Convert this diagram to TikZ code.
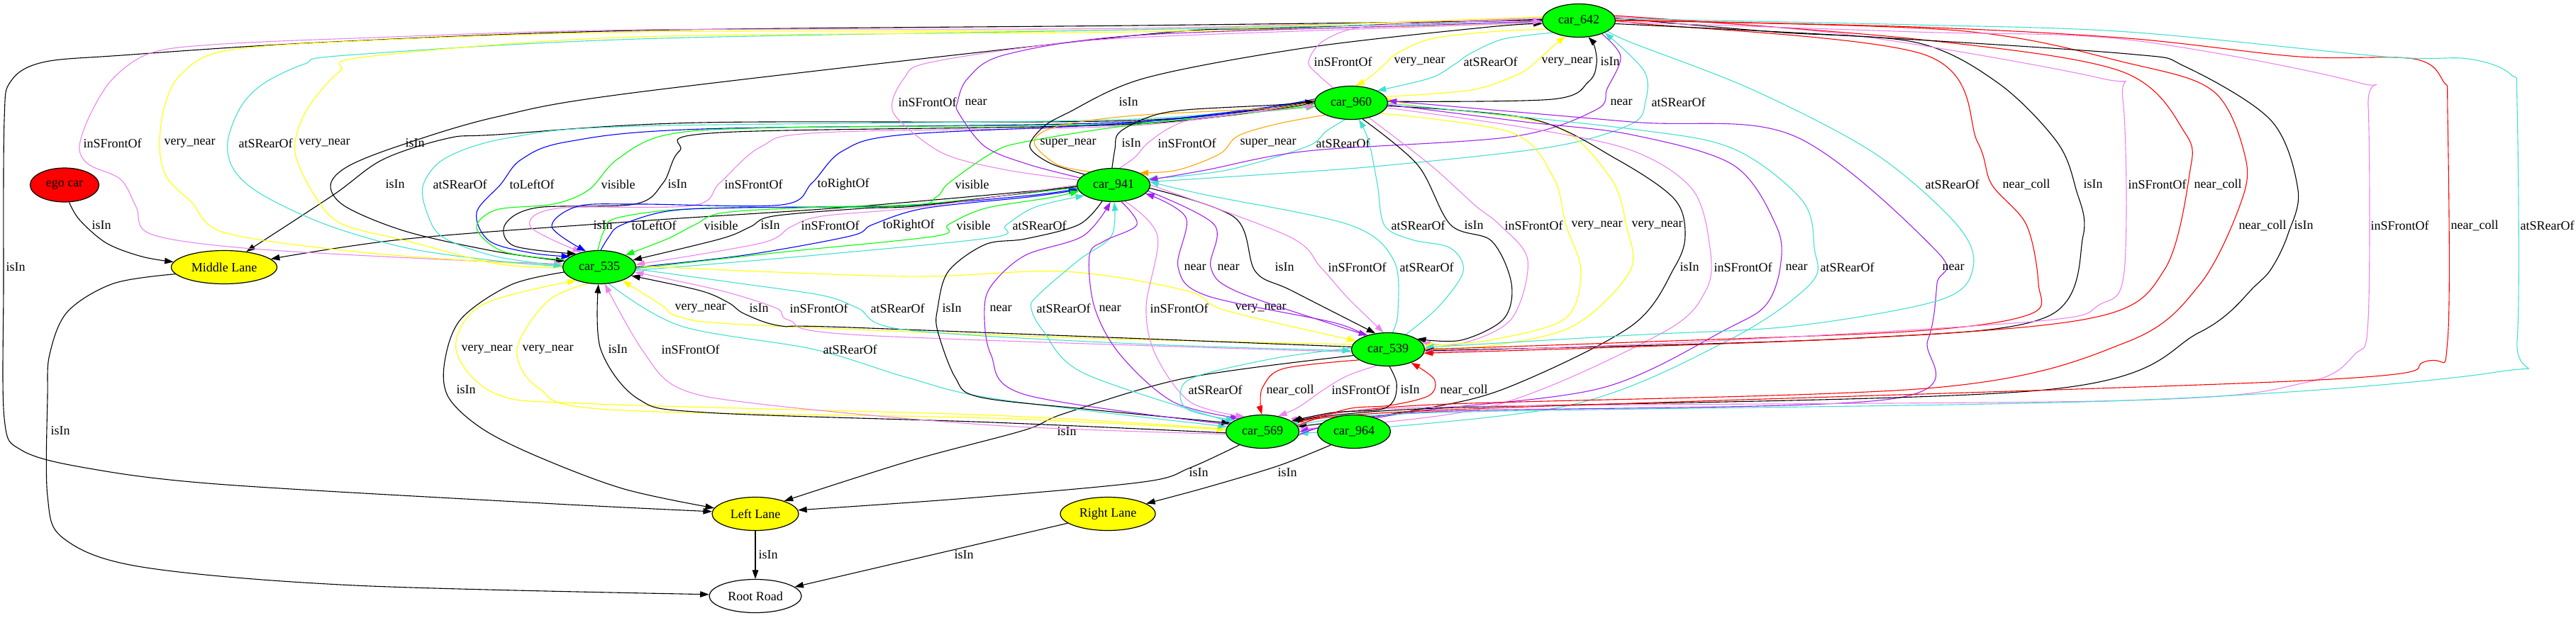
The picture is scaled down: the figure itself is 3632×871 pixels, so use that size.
\documentclass[tikz,border=0pt]{standalone}
\usepackage{fontspec}
\setmainfont{Liberation Serif}
\usetikzlibrary{shapes.geometric, arrows.meta}
\definecolor{GVgreen}{HTML}{00FF00}
\definecolor{GVyellow}{HTML}{FFFF00}
\definecolor{GVred}{HTML}{FF0000}
\definecolor{GVviolet}{HTML}{EE82EE}
\definecolor{GVturq}{HTML}{40E0D0}
\definecolor{GVpurple}{HTML}{A020F0}
\definecolor{GVorange}{HTML}{FFA500}
\definecolor{GVblue}{HTML}{0000FF}
\pgfdeclarelayer{edges}
\pgfsetlayers{edges,main}

\begin{document}
\begin{tikzpicture}[x=1pt, y=-1pt,
   every node/.style={font=\fontsize{18}{21}\selectfont},
   gvnode/.style={ellipse, draw, line width=1.2pt, minimum height=47pt, inner sep=0pt},
   car/.style={gvnode, fill=GVgreen, minimum width=103pt},
   lane/.style={gvnode, fill=GVyellow},
   rel/.style={line width=1.1pt, smooth, tension=0.55, -{Triangle[length=12.5pt, width=8.5pt]}},
   lbl/.style={anchor=west, inner sep=0pt, text=black},
   isInE/.style={rel, black},
   frontE/.style={rel, GVviolet},
   rearE/.style={rel, GVturq},
   vnearE/.style={rel, GVyellow},
   nearE/.style={rel, GVpurple},
   collE/.style={rel, GVred},
   snearE/.style={rel, GVorange},
   sideE/.style={rel, GVblue},
   visE/.style={rel, GVgreen}]
\useasboundingbox (0,0) rectangle (3632,871);

\node[car] (n642) at (2226,29) {car\_642};
\node[car] (n960) at (1905,145) {car\_960};
\node[car] (n941) at (1570,261) {car\_941};
\node[car] (n535) at (845,377) {car\_535};
\node[car] (n539) at (1957,493) {car\_539};
\node[car] (n569) at (1780,609) {car\_569};
\node[car] (n964) at (1909,609) {car\_964};
\node[gvnode, fill=GVred, minimum width=97pt, minimum height=48pt] (ego) at (91,261) {ego car};
\node[lane, minimum width=149pt] (midL) at (316,377) {Middle Lane};
\node[lane, minimum width=122pt] (leftL) at (1065,725) {Left Lane};
\node[lane, minimum width=134pt] (rightL) at (1562,725) {Right Lane};
\node[gvnode, fill=white, minimum width=130pt] (root) at (1065,841) {Root Road};

\begin{pgfonlayer}{edges}
% lanes and road
\draw[isInE] plot coordinates {(ego.-75) (112,310) (150,343) (200,362) (midL.174)} node[lbl] at (129,318) {isIn};
\draw[isInE] plot coordinates {(midL.-172) (160,400) (95,440) (70,500) (67,560) (67,700) (90,760) (200,800) (500,826) (root.178)} node[lbl] at (71,608) {isIn};
\draw[isInE] plot coordinates {(n642.180) (1600,36) (900,43) (450,60) (172,78) (60,88) (15,115) (6,170) (5,400) (6,590) (30,635) (120,660) (306,683) (765,710) (leftL.177)} node[lbl] at (8,377) {isIn};
\draw[isInE] (leftL) -- (root) node[lbl] at (1069,783) {isIn};
\draw[isInE] (rightL) -- (root) node[lbl] at (1345,783) {isIn};
\draw[isInE] plot coordinates {(n964.-150) (1803,657) (1700,688) (rightL.15)} node[lbl] at (1801,667) {isIn};
\draw[isInE] plot coordinates {(n569.-150) (1678,660) (1612,680) (1363,703) (leftL.5)} node[lbl] at (1676,667) {isIn};
\draw[isInE] plot coordinates {(n539.-170) (1674,533) (1502,583) (1444,607) (1284,650) (leftL.24)} node[lbl] at (1490,609) {isIn};
\draw[isInE] plot coordinates {(n535.-172) (720,402) (650,450) (627,510) (632,560) (680,605) (760,645) (880,690) (leftL.172)} node[lbl] at (643,550) {isIn};
\draw[isInE] plot coordinates {(n941.183) (1200,292) (900,312) (574,337) (midL.10)} node[lbl] at (836,318) {isIn};
\draw[isInE] plot coordinates {(n960.178) (1600,170) (987,173) (700,190) (632,195) (540,225) (470,275) (midL.35)} node[lbl] at (543,260) {isIn};

% car_642 -- car_535
\draw[isInE] plot coordinates {(n642.178) (1800,40) (1600,50) (900,130) (700,165) (565,205) (490,235) (466,262) (488,292) (574,327) (700,355) (n535.170)} node[lbl] at (571,202) {isIn};
\draw[frontE] plot coordinates {(n642.176) (1600,40) (900,42) (500,54) (300,63) (212,75) (160,110) (128,160) (112,207) (125,232) (170,253) (192,292) (212,330) (344,350) (600,365) (n535.175)} node[lbl] at (117,202) {inSFrontOf};
\draw[vnearE] plot coordinates {(n642.174) (1600,42) (900,45) (500,58) (316,72) (255,105) (232,150) (225,207) (235,250) (270,285) (316,328) (500,355) (700,370) (n535.177)} node[lbl] at (231,202) {very\_near};
\draw[rearE] plot coordinates {(n535.179) (700,368) (574,350) (460,317) (370,275) (330,240) (321,200) (340,150) (373,117) (430,90) (488,78) (900,55) (1600,42) (n642.182)} node[lbl] at (336,202) {atSRearOf};
\draw[vnearE] plot coordinates {(n535.181) (700,372) (574,340) (480,315) (440,270) (416,215) (425,170) (448,133) (480,100) (517,80) (900,52) (1600,45) (n642.184)} node[lbl] at (421,202) {very\_near};

% car_960 -- car_535
\draw[rearE] plot coordinates {(n960.176) (1600,168) (900,178) (720,194) (630,222) (597,260) (602,300) (625,335) (700,362) (n535.178)} node[lbl] at (610,260) {atSRearOf};
\draw[sideE] plot coordinates {(n960.174) (1600,172) (990,182) (800,200) (735,225) (706,260) (672,300) (690,340) (750,357) (n535.160)} node[lbl] at (718,260) {toLeftOf};
\draw[visE] plot coordinates {(n535.168) (710,355) (672,322) (700,296) (780,288) (830,268) (870,225) (941,190) (1100,180) (1600,174) (n960.182)} node[lbl] at (847,260) {visible};
\draw[isInE] plot coordinates {(n960.180) (1600,175) (1016,187) (958,213) (935,258) (895,288) (757,293) (712,317) (725,347) (n535.150)} node[lbl] at (941,260) {isIn};
\draw[frontE] plot coordinates {(n960.179) (1600,177) (1160,187) (1073,207) (1015,258) (976,290) (786,294) (748,320) (n535.140)} node[lbl] at (1021,260) {inSFrontOf};
\draw[sideE] plot coordinates {(n960.177) (1600,173) (1274,190) (1188,213) (1145,258) (1102,289) (901,288) (815,291) (778,320) (n535.130)} node[lbl] at (1152,260) {toRightOf};
\draw[visE] plot coordinates {(n535.95) (852,325) (872,307) (987,294) (1274,291) (1320,278) (1338,258) (1400,215) (1446,200) (1600,176) (n960.186)} node[lbl] at (1346,260) {visible};

% car_941 -- car_535
\draw[sideE] plot coordinates {(n535.85) (858,335) (875,318) (941,298) (1044,293) (1274,290) (1450,276) (n941.186)} node[lbl] at (890,318) {toLeftOf};
\draw[visE] plot coordinates {(n941.184) (1300,288) (1159,292) (1021,300) (980,317) (941,337) (n535.25)} node[lbl] at (992,318) {visible};
\draw[isInE] plot coordinates {(n941.182) (1300,290) (1217,294) (1090,305) (1058,320) (1016,337) (n535.12)} node[lbl] at (1072,318) {isIn};
\draw[frontE] plot coordinates {(n941.180) (1300,292) (1159,305) (1115,320) (1073,343) (n535.4)} node[lbl] at (1129,318) {inSFrontOf};
\draw[sideE] plot coordinates {(n535.0) (1050,360) (1199,333) (1230,317) (1303,294) (1450,278) (n941.188)} node[lbl] at (1244,318) {toRightOf};
\draw[visE] plot coordinates {(n535.-2) (1100,356) (1320,333) (1337,317) (1389,294) (1480,279) (n941.190)} node[lbl] at (1348,318) {visible};
\draw[rearE] plot coordinates {(n535.-5) (1150,360) (1400,335) (1418,318) (1460,292) (n941.-160)} node[lbl] at (1427,318) {atSRearOf};

% car_535 -- car_539
\draw[vnearE] plot coordinates {(n539.172) (1500,476) (1050,458) (958,447) (932,430) (n535.-30)} node[lbl] at (951,435) {very\_near};
\draw[isInE] plot coordinates {(n539.176) (1198,462) (1102,460) (1050,443) (1027,427) (987,410) (n535.-15)} node[lbl] at (1056,435) {isIn};
\draw[frontE] plot coordinates {(n539.-176) (1217,473) (1113,452) (1095,435) (1016,410) (n535.-8)} node[lbl] at (1113,435) {inSFrontOf};
\draw[rearE] plot coordinates {(n535.-3) (1044,400) (1160,417) (1210,435) (1274,465) (1600,485) (n539.-178)} node[lbl] at (1227,435) {atSRearOf};
\draw[vnearE] plot coordinates {(n535.2) (1274,390) (1500,383) (1672,410) (1728,438) (n539.165)} node[lbl] at (1741,435) {very\_near};

% car_535 -- car_569
\draw[vnearE] plot coordinates {(n569.176) (1400,586) (842,570) (700,556) (643,493) (680,430) (n535.-150)} node[lbl] at (650,493) {very\_near};
\draw[vnearE] plot coordinates {(n535.-125) (772,425) (729,493) (760,548) (860,578) (1400,590) (n569.177)} node[lbl] at (736,493) {very\_near};
\draw[isInE] plot coordinates {(n569.-178) (1400,596) (995,582) (900,563) (847,493) (n535.-93)} node[lbl] at (857,493) {isIn};
\draw[frontE] plot coordinates {(n569.-176) (1400,600) (1071,570) (956,547) (905,493) (n535.-72)} node[lbl] at (932,493) {inSFrontOf};
\draw[rearE] plot coordinates {(n535.-60) (960,460) (1148,493) (1280,533) (1405,563) (n569.172)} node[lbl] at (1160,493) {atSRearOf};

% car_941 -- car_569
\draw[isInE] plot coordinates {(n941.-125) (1521,317) (1446,337) (1389,345) (1337,383) (1322,435) (1322,467) (1347,533) (1380,560) (1529,577) (n569.165)} node[lbl] at (1328,435) {isIn};
\draw[nearE] plot coordinates {(n569.168) (1446,557) (1397,500) (1388,435) (1400,400) (1446,360) (1527,333) (n941.-100)} node[lbl] at (1395,435) {near};
\draw[rearE] plot coordinates {(n569.163) (1529,527) (1471,467) (1454,435) (1463,417) (1521,367) (1567,333) (n941.-88)} node[lbl] at (1461,435) {atSRearOf};
\draw[nearE] plot coordinates {(n941.-65) (1603,317) (1557,340) (1536,360) (1543,433) (1579,500) (1654,567) (n569.150)} node[lbl] at (1549,435) {near};
\draw[frontE] plot coordinates {(n941.-55) (1632,333) (1616,433) (1629,500) (1678,567) (n569.140)} node[lbl] at (1621,435) {inSFrontOf};

% car_941 -- car_539
\draw[nearE] plot coordinates {(n539.150) (1880,455) (1701,417) (1661,377) (1672,307) (n941.-15)} node[lbl] at (1669,377) {near};
\draw[nearE] plot coordinates {(n941.-10) (1712,317) (1707,377) (1741,410) (1880,458) (n539.145)} node[lbl] at (1716,377) {near};
\draw[isInE] plot coordinates {(n941.-5) (1741,307) (1770,383) (1821,410) (n539.128)} node[lbl] at (1797,377) {isIn};
\draw[frontE] plot coordinates {(n941.0) (1816,333) (1862,377) (1900,420) (n539.105)} node[lbl] at (1872,377) {inSFrontOf};
\draw[rearE] plot coordinates {(n539.75) (1971,440) (1965,367) (1902,317) (1700,275) (n941.5)} node[lbl] at (1973,377) {atSRearOf};

% car_960 -- car_941
\draw[snearE] plot coordinates {(n941.150) (1490,232) (1458,200) (1492,178) (1600,163) (1800,152) (n960.175)} node[lbl] at (1466,202) {super\_near};
\draw[isInE] plot coordinates {(n941.95) (1572,210) (1578,187) (1620,165) (1672,155) (1800,148) (n960.178)} node[lbl] at (1581,202) {isIn};
\draw[frontE] plot coordinates {(n941.70) (1600,222) (1618,202) (1650,180) (1689,167) (1800,155) (n960.-175)} node[lbl] at (1632,202) {inSFrontOf};
\draw[snearE] plot coordinates {(n960.-155) (1800,175) (1745,192) (1720,217) (1660,240) (n941.25)} node[lbl] at (1748,202) {super\_near};
\draw[rearE] plot coordinates {(n960.-110) (1870,185) (1842,207) (1730,240) (n941.10)} node[lbl] at (1855,202) {atSRearOf};

% car_941 -- car_642
\draw[frontE] plot coordinates {(n941.172) (1420,240) (1331,217) (1268,170) (1258,144) (1275,110) (1303,90) (1446,67) (1600,53) (2000,38) (n642.183)} node[lbl] at (1266,144) {inSFrontOf};
\draw[nearE] plot coordinates {(n941.168) (1450,232) (1389,207) (1352,160) (1350,144) (1365,110) (1418,77) (1600,50) (2000,36) (n642.181)} node[lbl] at (1360,144) {near};
\draw[isInE] plot coordinates {(n941.160) (1480,230) (1452,207) (1470,180) (1504,160) (1615,110) (1844,67) (2100,38) (n642.185)} node[lbl] at (1577,144) {isIn};
\draw[nearE] plot coordinates {(n642.-30) (2285,80) (2266,125) (2250,155) (2131,193) (1844,213) (1700,240) (n941.8)} node[lbl] at (2270,144) {near};
\draw[rearE] plot coordinates {(n941.5) (1800,245) (1959,233) (2189,207) (2300,175) (2320,143) (2318,100) (n642.-25)} node[lbl] at (2328,144) {atSRearOf};

% car_960 -- car_642
\draw[frontE] plot coordinates {(n960.140) (1858,105) (1845,87) (1867,57) (1930,37) (2100,30) (n642.182)} node[lbl] at (1852,87) {inSFrontOf};
\draw[vnearE] plot coordinates {(n642.195) (2100,45) (2017,55) (1970,75) (1953,90) (1930,110) (n960.75)} node[lbl] at (1965,87) {very\_near};
\draw[rearE] plot coordinates {(n642.205) (2120,55) (2074,75) (2052,90) (2017,110) (n960.25)} node[lbl] at (2063,87) {atSRearOf};
\draw[vnearE] plot coordinates {(n960.10) (2074,127) (2140,105) (2166,87) (2190,65) (n642.-130)} node[lbl] at (2173,87) {very\_near};
\draw[isInE] plot coordinates {(n960.2) (2189,140) (2240,115) (2251,90) (2248,65) (n642.-60)} node[lbl] at (2256,87) {isIn};

% car_960 -- car_539
\draw[rearE] plot coordinates {(n539.40) (2028,433) (2063,383) (2045,350) (1990,338) (1952,318) (1942,260) (1930,200) (n960.-65)} node[lbl] at (1961,318) {atSRearOf};
\draw[isInE] plot coordinates {(n960.-55) (1999,233) (2045,317) (2103,340) (2131,400) (2120,450) (2060,480) (n539.20)} node[lbl] at (2064,318) {isIn};
\draw[frontE] plot coordinates {(n960.-40) (2017,233) (2080,290) (2114,317) (2154,367) (2131,450) (2060,485) (n539.12)} node[lbl] at (2121,318) {inSFrontOf};
\draw[vnearE] plot coordinates {(n960.-20) (2131,187) (2190,250) (2208,318) (2229,383) (2206,450) (2100,480) (n539.6)} node[lbl] at (2215,318) {very\_near};
\draw[vnearE] plot coordinates {(n539.2) (2100,488) (2218,460) (2298,383) (2293,318) (2270,250) (2189,177) (2000,150) (n960.8)} node[lbl] at (2300,318) {very\_near};

% car_960 -- car_569
\draw[isInE] plot coordinates {(n960.-5) (2160,168) (2280,225) (2360,280) (2376,330) (2361,377) (2300,460) (2125,547) (2000,578) (n569.8)} node[lbl] at (2368,377) {isIn};
\draw[frontE] plot coordinates {(n960.-8) (2150,180) (2300,212) (2386,267) (2411,350) (2405,410) (2343,470) (2104,573) (n569.4)} node[lbl] at (2416,377) {inSFrontOf};
\draw[nearE] plot coordinates {(n960.-3) (2150,172) (2300,190) (2444,233) (2505,320) (2510,377) (2490,430) (2437,463) (2260,547) (2000,580) (n569.0)} node[lbl] at (2517,377) {near};
\draw[rearE] plot coordinates {(n960.-1) (2300,182) (2444,210) (2541,283) (2558,350) (2553,400) (2437,480) (2208,573) (n569.-3)} node[lbl] at (2566,377) {atSRearOf};
\draw[nearE] plot coordinates {(n569.-6) (2000,582) (2666,563) (2718,480) (2731,400) (2731,355) (2530,192) (2300,172) (n960.3)} node[lbl] at (2738,377) {near};

% car_642 -- car_539
\draw[rearE] plot coordinates {(n642.-20) (2300,60) (2472,127) (2644,217) (2759,317) (2782,377) (2736,423) (2530,460) (2300,473) (n539.3)} node[lbl] at (2714,260) {atSRearOf};
\draw[collE] plot coordinates {(n539.0) (2300,483) (2702,467) (2863,443) (2874,400) (2857,317) (2808,260) (2788,200) (2713,77) (2300,32) (n642.2)} node[lbl] at (2823,260) {near\_coll};
\draw[isInE] plot coordinates {(n642.4) (2500,45) (2702,60) (2817,117) (2900,200) (2927,267) (2937,333) (2886,447) (2600,478) (n539.-2)} node[lbl] at (2937,260) {isIn};
\draw[frontE] plot coordinates {(n642.6) (2600,48) (2960,110) (2993,140) (2995,383) (2960,430) (2874,453) (2400,482) (n539.-4)} node[lbl] at (3000,260) {inSFrontOf};
\draw[collE] plot coordinates {(n642.8) (2700,55) (2989,100) (3081,188) (3087,246) (3052,380) (2957,447) (2624,477) (n539.-6)} node[lbl] at (3093,260) {near\_coll};

% car_642 -- car_569
\draw[collE] plot coordinates {(n642.0) (2759,43) (3000,89) (3121,129) (3166,223) (3158,290) (3101,402) (3000,482) (2728,547) (2000,572) (n569.15)} node[lbl] at (3156,318) {near\_coll};
\draw[isInE] plot coordinates {(n642.-5) (2600,50) (3000,76) (3081,94) (3202,170) (3240,268) (3226,330) (3205,375) (3181,402) (3101,469) (2884,550) (2000,577) (n569.12)} node[lbl] at (3234,318) {isIn};
\draw[frontE] plot coordinates {(n642.-2) (2700,45) (3000,56) (3323,116) (3339,150) (3339,450) (3320,500) (3250,540) (3000,565) (2000,575) (n569.10)} node[lbl] at (3342,318) {inSFrontOf};
\draw[collE] plot coordinates {(n642.1) (2700,38) (3000,54) (3242,80) (3403,83) (3445,115) (3451,160) (3451,480) (3420,510) (3250,537) (2000,580) (n569.6)} node[lbl] at (3455,318) {near\_coll};
\draw[rearE] plot coordinates {(n642.3) (2700,35) (3000,45) (3363,80) (3480,83) (3540,105) (3549,150) (3549,480) (3520,525) (3000,565) (2000,583) (n569.2)} node[lbl] at (3553,318) {atSRearOf};

% car_539 -- car_569
\draw[rearE] plot coordinates {(n539.178) (1800,505) (1690,530) (1665,550) (1675,578) (n569.158)} node[lbl] at (1675,550) {atSRearOf};
\draw[collE] plot coordinates {(n539.-160) (1810,520) (1781,545) (1777,570) (n569.92)} node[lbl] at (1785,550) {near\_coll};
\draw[frontE] plot coordinates {(n539.-125) (1900,530) (1866,550) (1830,575) (n569.45)} node[lbl] at (1877,550) {inSFrontOf};
\draw[isInE] plot coordinates {(n539.-85) (1969,540) (1965,565) (1945,578) (1880,582) (n569.20)} node[lbl] at (1974,550) {isIn};
\draw[collE] plot coordinates {(n569.10) (1900,577) (1960,572) (2015,558) (2022,535) (n539.-30)} node[lbl] at (2030,550) {near\_coll};
\end{pgfonlayer}
\end{tikzpicture}
\end{document}
